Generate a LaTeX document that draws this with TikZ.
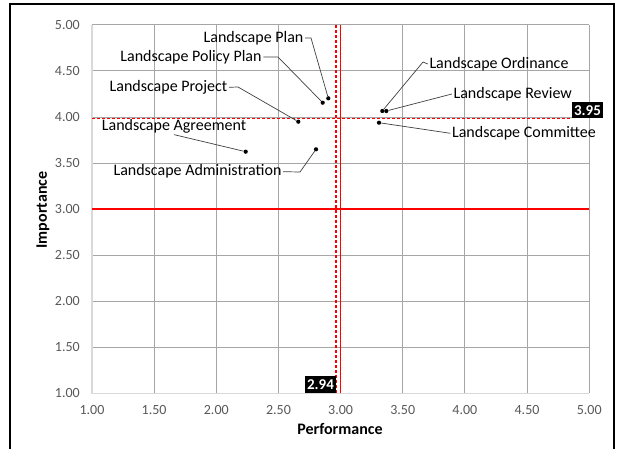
\documentclass[tikz,border=0pt]{standalone}
\usepackage{fontspec}
\setmainfont{Carlito}
\definecolor{gridgray}{HTML}{A6A6A6}
\definecolor{axisgray}{HTML}{D9D9D9}
\definecolor{ticktext}{HTML}{595959}
\definecolor{leadgray}{HTML}{404040}
\definecolor{qred}{HTML}{FF0000}
\begin{document}
\begin{tikzpicture}[x=1pt,y=-1pt,
  gridline/.style={draw=gridgray,line width=0.9pt},
  axisline/.style={draw=axisgray,line width=1.2pt},
  redsolid/.style={draw=qred,line width=1.4pt},
  reddash/.style={draw=qred,line width=1.4pt,dash pattern=on 3pt off 2pt},
  lbl/.style={font=\fontsize{16}{19}\selectfont,inner sep=1.5pt},
  tick/.style={font=\fontsize{14}{16}\selectfont,text=ticktext,inner sep=0pt},
  title/.style={font=\fontsize{16}{19}\selectfont\bfseries,inner sep=0pt},
  dot/.style={circle,fill=black,inner sep=0pt,minimum size=4.2pt},
  leader/.style={draw=leadgray,line width=0.7pt},
  valbox/.style={fill=black,text=white,font=\fontsize{15}{17}\selectfont\bfseries,inner sep=0pt,minimum width=31pt,minimum height=16.5pt}]
\useasboundingbox (0,0) rectangle (623,449);
\fill[white] (0,0) rectangle (623,449);
% outer frame
\draw[line width=1.3pt] (10,460) -- (10,4) -- (614,4) -- (614,460);
% grid
\foreach \v in {1.5,2,...,5} {
  \draw[gridline] ({92+124.3*(\v-1)},24.9) -- ({92+124.3*(\v-1)},393.3);
  \draw[gridline] (92,{393.3-92.1*(\v-1)}) -- (589.2,{393.3-92.1*(\v-1)});
}
\draw[axisline] (92,24.9) -- (92,393.3) -- (589.2,393.3);
% tick labels
\foreach \v/\t [count=\i] in {1/1.00,1.5/1.50,2/2.00,2.5/2.50,3/3.00,3.5/3.50,4/4.00,4.5/4.50,5/5.00} {
  \node[tick,anchor=east] (yt\i) at (80,{393.3-92.1*(\v-1)}) {\t};
  \node[tick] (xt\i) at ({92+124.3*(\v-1)},410.5) {\t};
}
% axis titles
\node[title] (xtitle) at (340,429) {Performance};
\node[title,rotate=90] (ytitle) at (43,210) {Importance};
% red reference lines
\draw[redsolid] (92,209.1) -- (589.2,209.1);
\draw[redsolid] (340.3,24.9) -- (340.3,393.3);
\draw[reddash] (336,24.9) -- (336,393.3);
\draw[reddash] (92,118.5) -- (571,118.5);
% value boxes
\node[valbox] (vx) at (320.5,384.3) {2.94};
\node[valbox] (vy) at (587.5,110.2) {3.95};
% data points
\node[dot] (dplan) at (328.3,98.3) {};
\node[dot] (dpolicy) at (322.7,102.7) {};
\node[dot] (dproject) at (298.3,121.7) {};
\node[dot] (dagree) at (245.7,151.7) {};
\node[dot] (dadmin) at (316,149.3) {};
\node[dot] (dord) at (382.3,111) {};
\node[dot] (drev) at (386.3,111) {};
\node[dot] (dcomm) at (379,122.7) {};
% labels
\node[lbl] (lplan) at (253.5,38) {Landscape Plan};
\node[lbl] (lpolicy) at (191,57) {Landscape Policy Plan};
\node[lbl] (lproject) at (168.5,87.3) {Landscape Project};
\node[lbl] (lagree) at (174,126) {Landscape Agreement};
\node[lbl] (ladmin) at (197.5,171.7) {Landscape Administration};
\node[lbl] (lord) at (499,64) {Landscape Ordinance};
\node[lbl] (lrev) at (512.7,94) {Landscape Review};
\node[lbl] (lcomm) at (524,133.3) {Landscape Committee};
% leader lines
\coordinate (bplan) at (311,38);
\coordinate (bpolicy) at (278,57);
\coordinate (bproject) at (238,87);
\coordinate (badmin) at (300,172);
\coordinate (bord) at (423,62);
\draw[leader] (lplan.east) -- (bplan) -- (dplan);
\draw[leader] (lpolicy.east) -- (bpolicy) -- (dpolicy);
\draw[leader] (lproject.east) -- (bproject) -- (dproject);
\draw[leader] (lagree.south) -- (dagree);
\draw[leader] (ladmin.east) -- (badmin) -- (dadmin);
\draw[leader] (lord.west) -- (bord) -- (dord);
\draw[leader] (lrev.west) -- (drev);
\draw[leader] (lcomm.west) -- (dcomm);
\end{tikzpicture}
\end{document}
